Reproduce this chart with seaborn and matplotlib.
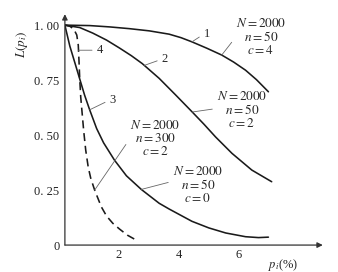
import matplotlib
matplotlib.use("Agg")
import matplotlib.pyplot as plt
import seaborn as sns

# ---- data ----
p_c4 = [0.199, 1.026, 1.689, 2.351, 3.013, 3.675, 4.073, 4.437, 4.934, 5.430,
        5.828, 6.225, 6.589, 6.987]
L_c4 = [1.0, 0.998, 0.992, 0.984, 0.974, 0.959, 0.943, 0.924, 0.895, 0.864,
        0.832, 0.795, 0.752, 0.697]

p_c2 = [0.199, 0.695, 1.126, 1.589, 2.020, 2.417, 2.781, 3.344, 3.897, 4.447,
        4.834, 5.222, 5.772, 6.434, 7.096]
L_c2 = [1.0, 0.989, 0.964, 0.932, 0.896, 0.861, 0.825, 0.758, 0.682, 0.605,
        0.550, 0.492, 0.417, 0.341, 0.288]

p_c0 = [0.199, 0.364, 0.530, 0.695, 0.861, 1.026, 1.258, 1.490, 1.854, 2.252,
        2.748, 3.344, 3.675, 4.437, 5.0, 5.563, 6.225, 6.656, 6.987]
L_c0 = [1.0, 0.905, 0.83, 0.755, 0.68, 0.615, 0.53, 0.465, 0.386, 0.315,
        0.253, 0.19, 0.164, 0.108, 0.078, 0.055, 0.038, 0.034, 0.036]

p_n300 = [0.199, 0.364, 0.497, 0.596, 0.646, 0.669, 0.695, 0.728, 0.778, 0.828,
          0.894, 0.977, 1.060, 1.192, 1.414, 1.589, 1.798, 2.02, 2.285, 2.573]
L_n300 = [1.0, 0.995, 0.982, 0.955, 0.909, 0.841, 0.755, 0.673, 0.595, 0.518,
          0.432, 0.355, 0.305, 0.25, 0.174, 0.132, 0.099, 0.073, 0.045, 0.023]

y_ticks = [0, 0.25, 0.5, 0.75, 1.0]
y_tick_labels = ["0", "0. 25", "0. 50", "0. 75", "1. 00"]
x_ticks = [2, 4, 6]
x_tick_labels = ["2", "4", "6"]

curve_labels = ["1", "2", "3", "4"]
block_texts = [
    "$N = 2000$\n$n = 50$\n$c = 4$",
    "$N = 2000$\n$n = 50$\n$c = 2$",
    "$N = 2000$\n$n = 300$\n$c = 2$",
    "$N = 2000$\n$n = 50$\n$c = 0$",
]

# ---- style ----
sns.set_style("white")
plt.rcParams["font.family"] = ["Liberation Serif", "DejaVu Serif"]
plt.rcParams["mathtext.fontset"] = "stix"

fig = plt.figure(figsize=(3.38, 2.72), dpi=100)
ax = fig.add_axes([0.192, 0.099, 0.763, 0.849])

line_col = "#1a1a1a"
lead_col = "#666666"

sns.lineplot(x=p_c4, y=L_c4, ax=ax, color=line_col, lw=1.15, estimator=None, sort=False)
sns.lineplot(x=p_c2, y=L_c2, ax=ax, color=line_col, lw=1.15, estimator=None, sort=False)
sns.lineplot(x=p_c0, y=L_c0, ax=ax, color=line_col, lw=1.15, estimator=None, sort=False)
sns.lineplot(x=p_n300, y=L_n300, ax=ax, color=line_col, lw=1.15, estimator=None,
             sort=False, linestyle=(0, (5, 3)))

ax.set_xlim(0.2, 8.8)
ax.set_ylim(0, 1.05)
ax.set_xticks(x_ticks)
ax.set_xticklabels(x_tick_labels)
ax.set_yticks(y_ticks)
ax.set_yticklabels(y_tick_labels)
ax.tick_params(direction="in", length=4.5, width=0.8, color="#555555",
               labelsize=9, labelcolor="#222222")
ax.tick_params(axis="y", pad=4)
ax.tick_params(axis="x", pad=3)
for s in ax.spines.values():
    s.set_visible(False)
ax.set_xlabel("")
ax.set_ylabel("")

# axes with arrows
arrow = dict(arrowstyle="-|>", lw=0.9, color="#333333", mutation_scale=8,
             shrinkA=0, shrinkB=0)
ax.annotate("", xy=(1.0, 0), xytext=(0, 0), xycoords="axes fraction",
            textcoords="axes fraction", arrowprops=arrow)
ax.annotate("", xy=(0, 1.0), xytext=(0, 0), xycoords="axes fraction",
            textcoords="axes fraction", arrowprops=arrow)

# axis labels
ax.text(-0.167, 0.87, "$L(p_i)$", transform=ax.transAxes, rotation=90,
        ha="center", va="center", fontsize=9.5)
ax.text(0.845, -0.087, "$p_i$(%)", transform=ax.transAxes,
        ha="center", va="center", fontsize=9)

# curve number labels
lead = dict(arrowstyle="-", lw=0.6, color=lead_col, shrinkA=1, shrinkB=0)
num_xy = [(4.437, 0.924), (2.85, 0.817), (1.026, 0.615), (0.65, 0.886)]
num_txt = [(4.83, 0.959), (3.43, 0.845), (1.69, 0.659), (1.26, 0.886)]
for lab, xy, xt in zip(curve_labels, num_xy, num_txt):
    ax.annotate(lab, xy=xy, xytext=xt, ha="left", va="center", fontsize=9,
                arrowprops=dict(lead, relpos=(0, 0.5)))

# parameter blocks
blk_xy = [(5.43, 0.864), (4.447, 0.605), (1.192, 0.25), (2.748, 0.253)]
blk_txt = [(5.9, 1.037), (5.27, 0.703), (2.37, 0.573), (3.8, 0.363)]
blk_rel = [(0, 0.5), (0, 0.55), (0, 0.5), (0, 0.6)]
for t, xy, xt, rp in zip(block_texts, blk_xy, blk_txt, blk_rel):
    ax.annotate(t, xy=xy, xytext=xt, ha="left", va="top", fontsize=9.5,
                linespacing=1.0, multialignment="center",
                arrowprops=dict(lead, relpos=rp))

fig.savefig("out.png", dpi=100)
